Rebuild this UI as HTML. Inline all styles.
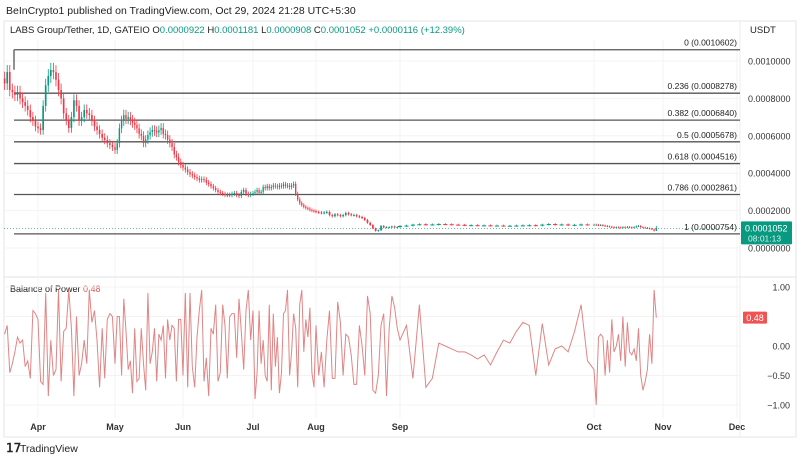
<!DOCTYPE html>
<html><head><meta charset="utf-8"><style>
body{margin:0;width:800px;height:460px;background:#fff;overflow:hidden;font-family:"Liberation Sans",sans-serif}
svg text{font-family:"Liberation Sans",sans-serif}
</style></head><body>
<svg id="c" width="800" height="460" xmlns="http://www.w3.org/2000/svg">
<text x="6" y="14" font-size="10.5" fill="#222">BeInCrypto1 published on TradingView.com, Oct 29, 2024 21:28 UTC+5:30</text>
<rect x="4" y="21" width="792" height="416" fill="none" stroke="#e6e6e6"/>
<text x="10" y="33" font-size="9.5" fill="#222">LABS Group/Tether, 1D, GATEIO <tspan>O</tspan><tspan fill="#089981">0.0000922</tspan>  <tspan>H</tspan><tspan fill="#089981">0.0001181</tspan>  <tspan>L</tspan><tspan fill="#089981">0.0000908</tspan>  <tspan>C</tspan><tspan fill="#089981">0.0001052  +0.0000116 (+12.39%)</tspan></text>
<text x="750" y="33" font-size="9.5" fill="#222">USDT</text>
<line x1="4" y1="277" x2="796" y2="277" stroke="#e0e0e0"/>
<line x1="740" y1="21" x2="740" y2="437" stroke="#eee"/>
<text x="10" y="292" font-size="9" fill="#222">Balance of Power <tspan fill="#e05555">0.48</tspan></text>
<g id="grid"></g><g id="fib"></g><g id="candles"></g><g id="bop"></g><g id="axes"></g>
<g><text x="6" y="452" font-size="12" font-weight="bold" fill="#222">𝟣𝟩</text><text x="20" y="452" font-size="10.5" fill="#222">TradingView</text></g>
</svg>
<script>
const monthLabels=["Apr","May","Jun","Jul","Aug","Sep","Oct","Nov","Dec"];
const monthDays=[13,43,74,104,135,166,196,227,257];
const monthPx=[38,115,183,253,316,400,594,663,737];
const priceTicks=[0,200,400,600,800,1000];
const bopTicks=[1,0.5,0,-0.5,-1];
const fibRatios=["0","0.236","0.382","0.5","0.618","0.786","1"];
const fibPrices=[1060.2,827.8,684.0,567.8,451.6,286.1,75.4];
const closes=[880,941,845,834,818,834,800,780,760,738,700,680,650,
640,631,760,870,920,952,940,900,845,800,720,684,642,700,790,760,680,700,738,720,711,680,650,631,610,590,578,560,551,540,
524,560,640,680,711,690,700,684,670,658,640,610,600,561,580,604,620,631,625,618,630,642,610,604,580,561,540,500,487,460,444,
430,420,406,395,388,380,372,364,368,364,350,342,330,320,310,300,294,290,283,285,283,290,294,283,278,300,310,290,283,290,
294,300,310,294,300,326,320,330,320,326,334,330,326,334,330,340,332,334,326,334,342,290,260,240,230,220,214,210,203,200,197,
193,190,187,190,193,176,170,180,176,170,176,187,180,176,176,170,166,160,150,135,123,105,91,95,118,110,112,112,115,112,112,
118,120,125,127,125,126,128,127,125,124,122,122,121,121,120,120,119,119,120,121,122,120,125,128,124,126,122,124,126,125,
125,124,122,123,120,118,116,114,112,110,111,110,109,112,110,113,111,110,112,116,118,112,110,108,106,104,100,92.2,105.2];
const bopValues=[0.2,0.35,-0.45,-0.3,-0.1,0.15,0.05,0.1,-0.35,-0.25,-0.55,0.6,0.55,
0.45,-0.6,-0.65,0.9,-0.85,0.1,-0.5,-0.4,0.95,-0.6,0.25,0.3,0.95,0.3,-0.85,0.5,-0.5,-0.3,0.1,-0.3,0.95,0.4,0.6,0.1,-0.7,0.3,-0.55,0.45,0.55,0.5,
-0.3,0.5,0.5,-0.5,0.8,0.25,-0.4,-0.25,-0.8,0.3,-0.6,-0.55,0.3,-0.3,-0.75,0.9,-0.3,-0.1,0.3,-0.6,0.2,0.1,0.35,-0.55,0.45,0.1,0.35,0.3,-0.6,0.45,0.45,
-0.5,0.9,-0.7,0.9,-0.35,-0.7,0.15,0.6,0.95,-0.6,-0.2,-0.85,0.3,0.2,0.7,-0.6,-0.45,0.7,0.35,-0.55,0.5,0.55,0.55,-0.2,0.8,0.25,-0.4,0.6,0.95,0.1,
0.6,-0.9,-0.45,0.6,-0.3,0.1,-0.5,-0.6,0.7,-0.75,0.55,-0.35,0.15,-0.8,-0.45,0.55,0.6,0.95,-0.5,-0.1,0.55,0.3,-0.7,0.7,0.95,-0.1,0.45,0.15,0.65,-0.45,-0.7,
0.35,-0.5,-0.1,-0.7,0.1,0.6,-0.55,-0.55,0.75,0.4,-0.5,0.2,0.15,-0.15,-0.65,-0.65,0.35,0.0,-0.5,0.85,0.55,-0.75,-0.8,-0.5,0.35,0.55,-0.85,0.3,0.85,0.65,0.3,
0.1,0.35,-0.55,0.7,-0.7,-0.55,0.05,0.0,-0.05,-0.1,-0.1,-0.15,-0.22,-0.15,-0.32,-0.1,0.1,0.05,0.25,0.4,0.35,-0.5,0.38,-0.32,-0.05,0.0,-0.1,0.25,0.7,-0.25,
-0.4,-1.0,0.15,0.2,0.15,-0.5,0.1,-0.45,0.45,-0.1,0.0,0.2,-0.25,0.5,-0.35,0.4,-0.1,-0.15,-0.05,-0.25,0.3,-0.5,-0.75,-0.6,-0.4,0.2,-0.3,0.95,0.48];
const lastClose=105.2, lastOpen=92.2, lastHigh=118.1, lastLow=90.8;
const NS="http://www.w3.org/2000/svg";
function X(d){
  if(d<=monthDays[0]) return monthPx[0]+(d-monthDays[0])*(monthPx[1]-monthPx[0])/(monthDays[1]-monthDays[0]);
  for(let i=0;i<monthDays.length-1;i++){ if(d<=monthDays[i+1]) return monthPx[i]+(d-monthDays[i])*(monthPx[i+1]-monthPx[i])/(monthDays[i+1]-monthDays[i]); }
  return monthPx[monthPx.length-1];
}
function Y(p){return 248-p*0.187;}
function B(v){return 346-v*59;}
function mk(tag,attrs,parent){const e=document.createElementNS(NS,tag);for(const k in attrs)e.setAttribute(k,attrs[k]);document.getElementById(parent).appendChild(e);return e;}
function fmt(p){return (p/1e6).toFixed(7);}
// grid + price axis
priceTicks.forEach(t=>{
  const g=mk('line',{x1:4,x2:740,y1:Y(t),y2:Y(t),stroke:'#f3f3f3'},'grid');
  
  
  const l=mk('text',{x:748,y:Y(t)+3.5,'font-size':9,fill:'#333'},'axes');l.textContent=fmt(t);
  
  
});
bopTicks.forEach(t=>{
  const g=mk('line',{x1:4,x2:740,y1:B(t),y2:B(t),stroke:'#f3f3f3'},'grid');
  
  
  if(t===0.5) return;
  const l=mk('text',{x:790,y:B(t)+3.5,'font-size':9,fill:'#333','text-anchor':'end'},'axes');l.textContent=t.toFixed(2).replace('-','\u2212');
  
  
});
monthLabels.forEach((m,i)=>{
  const x=X(monthDays[i]);
  const g=mk('line',{x1:x,x2:x,y1:40,y2:418,stroke:'#f3f3f3'},'grid');
  
  
  const l=mk('text',{x:x,y:430,'font-size':9,'font-weight':'bold',fill:'#333','text-anchor':'middle'},'axes');l.textContent=m;
  
  
});
// fib
const v=mk('line',{x1:14,x2:14,y1:Y(fibPrices[0]),y2:Y(fibPrices[0])+20,stroke:'#555','stroke-width':1.3},'fib');


fibRatios.forEach((r,i)=>{
  const y=Y(fibPrices[i]);
  const l=mk('line',{x1:14,x2:740,y1:y,y2:y,stroke:'#555','stroke-width':1.3},'fib');
  
  
  const t=mk('text',{x:737,y:y-4,'font-size':8.5,fill:'#222','text-anchor':'end'},'fib');t.textContent=r+' ('+fmt(fibPrices[i])+')';
  
  
});
// candles
for(let d=0;d<closes.length;d++){
  const last=d===closes.length-1;
  const c=closes[d], o=last?lastOpen:(d>0?closes[d-1]:c*1.03);
  const hi=last?lastHigh:Math.max(o,c)*1.04, lo=last?lastLow:Math.min(o,c)*0.96;
  const x=X(d), w=Math.max(1.2,Math.min(4.5,(X(d+1)-X(d))*0.65));
  const col=c>=o?'#089981':'#f23645';
  const wk=mk('line',{x1:x,x2:x,y1:Y(hi),y2:Y(lo),stroke:col,'stroke-width':0.8},'candles');
  
  
  const r=mk('rect',{x:x-w/2,y:Y(Math.max(o,c)),width:w,height:Math.max(1,Math.abs(Y(o)-Y(c))),fill:col},'candles');
  
  
}
// last price line and label
const lp=mk('line',{x1:4,x2:740,y1:Y(lastClose),y2:Y(lastClose),stroke:'#089981','stroke-width':0.6,'stroke-dasharray':'1,2'},'axes');


const lb=mk('rect',{x:741,y:Y(lastClose)-7,width:51,height:23,fill:'#089981',rx:1},'axes');


const lt=mk('text',{x:745,y:Y(lastClose)+3,'font-size':9,fill:'#fff'},'axes');lt.textContent=fmt(lastClose);


const lc=mk('text',{x:748,y:Y(lastClose)+13,'font-size':8.5,fill:'#d8f0ea'},'axes');lc.textContent='08:01:13';


// BOP
let pts=[];for(let d=0;d<Math.min(bopValues.length,closes.length);d++)pts.push(X(d).toFixed(1)+','+B(bopValues[d]).toFixed(1));
const pl=mk('polyline',{points:pts.join(' '),fill:'none',stroke:'#e08585','stroke-width':1},'bop');


const cur=bopValues[bopValues.length-1];
const bb=mk('rect',{x:743,y:B(cur)-6,width:24,height:12,fill:'#f05353',rx:1},'axes');


const bt=mk('text',{x:755,y:B(cur)+3.5,'font-size':9,fill:'#fff','text-anchor':'middle'},'axes');bt.textContent=cur.toFixed(2);


</script>
</body></html>
